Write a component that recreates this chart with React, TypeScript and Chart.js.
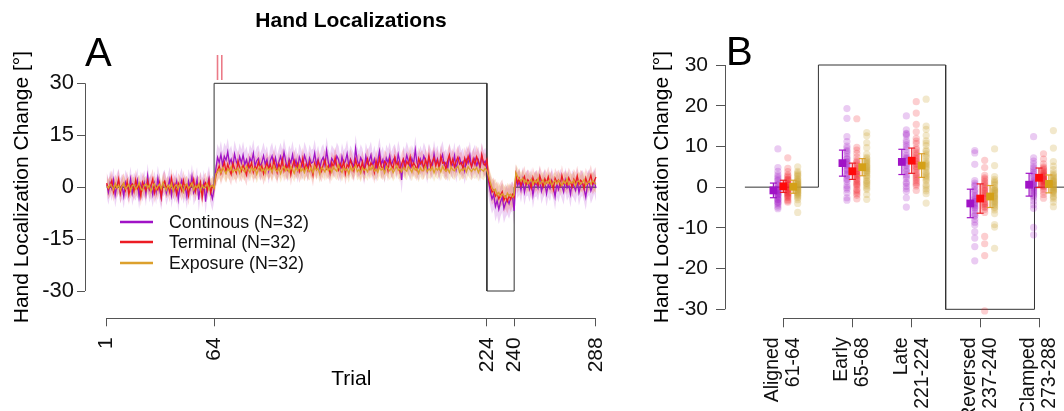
import React, { useEffect, useRef } from 'react';
import { Chart, registerables } from 'chart.js';
Chart.register(...registerables);

const FONT = "'Liberation Sans', Arial, Helvetica, sans-serif";

// ================= Panel A data =================
const phaseStarts = [1, 65, 225, 241];
const trialTicks = [1, 64, 224, 240, 288];
const yTicksA = [-30, -15, 0, 15, 30];
const scheduleTrials = [1, 64, 64, 224, 224, 240, 240, 288];
const scheduleValues = [0, 0, 30, 30, -30, -30, 0, 0];
const markerTrials = [66, 68.5];
const seriesLabels = ['Continous (N=32)', 'Terminal (N=32)', 'Exposure (N=32)'];

const contAligned = [
  0.8, -1.5, 1.2, -0.4, 2.1, -2.3, 0.5, 1.8,
  -1.1, 0.3, -2.6, 1.4, 0.2, -0.9, 2.4, -1.8,
  0.6, -0.3, 1.9, -2.8, 0.9, -0.6, 1.3, -1.9,
  3.2, -0.8, 0.4, -2.2, 1.1, -1.4, 2.6, -0.5,
  -3.1, 0.7, 1.5, -1.7, 0.2, 2.3, -2.4, 0.8,
  -0.9, 1.6, -3.4, 0.4, 2.0, -1.2, 0.3, -2.7,
  1.7, -0.4, 3.0, -1.6, -0.2, 2.2, -3.6, 0.9,
  -1.0, 1.4, -4.2, 0.5, 2.5, -1.3, -3.3, -0.6,
];
const contRotated = [
  5.2, 8.6, 7.1, 9.4, 6.3, 8.9, 7.8, 10.2,
  6.9, 8.1, 5.8, 9.6, 7.4, 6.2, 8.8, 7.0,
  9.3, 6.5, 7.9, 5.4, 8.4, 7.2, 9.8, 6.1,
  7.6, 8.3, 5.9, 7.1, 9.1, 6.6, 8.0, 4.8,
  7.7, 9.0, 6.4, 8.5, 5.6, 7.3, 8.9, 6.8,
  10.1, 7.5, 5.3, 8.2, 7.0, 9.4, 6.2, 7.8,
  5.1, 8.7, 7.2, 6.0, 9.2, 7.6, 5.7, 8.4,
  6.9, 7.3, 9.9, 6.4, 8.1, 5.5, 7.7, 8.6,
  6.3, 10.6, 7.1, 5.8, 8.3, 7.4, 6.6, 9.0,
  7.9, 5.2, 8.8, 6.7, 7.5, 9.7, 6.1, 8.2,
  7.0, 5.9, 11.2, 7.6, 6.4, 8.5, 7.3, 4.6,
  8.9, 6.8, 7.7, 9.3, 6.0, 8.1, 5.4, 7.5,
  10.4, 6.6, 7.9, 5.0, 8.4, 7.1, 9.1, 6.3,
  7.8, 8.6, 6.2, 9.5, 7.2, 2.1, 8.0, 6.9,
  9.2, 7.4, 5.6, 8.3, 6.7, 10.8, 7.0, 5.8,
  8.1, 6.5, 9.0, 7.6, 4.9, 8.7, 7.3, 6.1,
  9.6, 6.8, 8.2, 5.7, 7.9, 9.4, 6.4, 7.1,
  5.5, 8.8, 7.0, 6.3, 9.1, 5.2, 7.7, 8.5,
  6.6, 7.4, 4.7, 8.0, 6.9, 9.3, 5.9, 7.2,
  8.4, 6.1, 7.8, 5.4, 9.0, 6.7, 7.5, 5.8,
];
const contReversed = [1.5, -1.2, -3.4, -2.1, -5.6, -3.8, -6.4, -4.2, -2.9, -6.1, -4.5, -3.6, -4.8, -3.1, -2.6, -6.9];
const contClamped = [
  2.8, 0.4, 1.6, -0.8, 2.1, -1.5, 0.9, 1.3,
  -0.6, 1.8, -2.4, 0.7, 1.1, -0.3, 2.3, -1.2,
  0.5, 1.4, -1.9, 0.8, -0.4, 1.9, 0.2, -2.8,
  1.0, -0.7, 1.6, 0.3, -1.4, 2.0, -0.2, 0.9,
  -2.1, 1.2, 0.4, -0.9, 1.7, -1.6, 0.6, 1.3,
  -0.5, -2.9, 0.8, 1.5, -1.1, 0.3, 1.8, -0.3,
];

const termAligned = [
  1.2, -0.6, 0.4, 1.9, -1.4, 0.8, -0.2, 2.3,
  -1.8, 0.5, 1.1, -0.9, 1.6, -2.2, 0.3, 0.9,
  -1.2, 2.1, -0.4, 0.7, -2.6, 1.4, 0.1, -1.0,
  1.8, -0.5, 0.6, 2.4, -1.7, 0.2, -0.8, 1.3,
  -2.9, 0.9, 1.7, -0.3, 0.4, -1.5, 2.6, -0.7,
  0.8, -2.0, 1.2, 0.3, -1.1, 1.9, -0.6, 0.5,
  -2.4, 1.0, 0.2, 2.2, -1.3, 0.7, -0.1, 1.5,
  -3.0, 0.6, 1.3, -0.9, 2.0, -1.6, 0.4, -0.2,
];
const termRotated = [
  3.2, 4.8, 6.1, 3.9, 5.5, 7.2, 4.4, 6.6,
  5.0, 3.7, 6.9, 5.4, 4.1, 7.5, 5.8, 4.6,
  6.3, 5.1, 3.5, 6.8, 5.6, 7.1, 4.3, 6.0,
  5.3, 7.4, 4.9, 6.2, 3.8, 5.7, 7.0, 5.2,
  6.5, 4.5, 7.8, 5.9, 4.2, 6.7, 5.5, 8.1,
  4.7, 6.4, 5.1, 7.3, 3.6, 6.1, 7.7, 5.4,
  6.8, 4.4, 5.8, 8.3, 5.0, 6.6, 4.8, 7.2,
  5.6, 3.4, 6.9, 5.2, 7.6, 6.0, 4.6, 6.4,
  7.9, 5.3, 6.2, 4.0, 7.1, 5.7, 8.5, 6.1,
  4.9, 6.8, 5.5, 7.4, 3.9, 6.5, 5.8, 7.8,
  6.3, 4.7, 8.0, 5.9, 6.7, 5.1, 7.3, 4.5,
  6.6, 8.2, 5.4, 7.0, 6.2, 4.2, 7.7, 5.6,
  8.4, 6.0, 5.2, 7.5, 6.9, 4.8, 7.9, 6.3,
  5.5, 8.6, 6.1, 7.2, 4.6, 6.8, 8.1, 5.7,
  7.4, 6.5, 8.8, 5.9, 7.0, 6.2, 4.9, 8.3,
  6.7, 7.6, 5.3, 8.0, 6.4, 9.1, 5.8, 7.3,
  8.5, 6.1, 7.8, 5.6, 8.9, 6.9, 7.2, 5.1,
  7.7, 9.3, 6.3, 8.1, 5.8, 7.5, 8.7, 6.6,
  7.1, 5.4, 8.4, 6.8, 9.0, 7.3, 5.9, 8.2,
  6.5, 8.8, 7.4, 6.0, 9.4, 7.0, 6.2, 7.9,
];
const termReversed = [2.4, 0.3, -1.5, -0.8, -2.6, -1.9, -3.4, -2.2, -1.3, -3.8, -2.7, -4.1, -2.4, -3.5, -2.1, -3.0];
const termClamped = [
  3.6, 1.2, 2.5, 0.4, 1.9, 3.1, 0.8, 2.2,
  1.5, -0.3, 2.8, 1.0, 2.0, 0.6, 3.3, 1.7,
  0.2, 2.4, 1.3, 3.0, 0.9, 1.8, -0.6, 2.6,
  1.4, 2.1, 0.5, 3.4, 1.1, 1.9, 0.7, 2.7,
  1.6, 0.1, 2.3, 1.2, 3.2, 0.8, 2.0, 1.5,
  -0.4, 2.6, 1.0, 1.8, 3.5, 0.9, 1.7, 2.9,
];

const expAligned = [
  0.4, -0.3, 0.9, 0.2, -0.8, 1.1, -0.2, 0.6,
  -0.9, 0.3, 1.2, -0.5, 0.1, 0.8, -1.1, 0.4,
  0.7, -0.6, 0.2, 1.3, -0.4, -1.0, 0.5, 0.9,
  -0.2, 0.6, -1.3, 0.3, 1.0, -0.7, 0.2, 0.8,
  -0.5, 1.4, 0.1, -0.9, 0.6, -0.3, 1.1, -1.2,
  0.3, 0.7, -0.6, 1.0, -0.1, -1.4, 0.5, 0.9,
  -0.4, 0.2, 1.2, -0.8, 0.4, -0.2, 0.9, -1.1,
  0.6, -0.3, 0.1, 1.0, -0.7, 0.3, 0.5, -0.4,
];
const expRotated = [
  3.8, 4.5, 5.2, 4.1, 5.6, 4.8, 3.9, 5.3,
  4.6, 5.9, 4.3, 5.0, 4.7, 5.5, 4.0, 5.8,
  4.9, 4.4, 6.1, 5.1, 4.2, 5.7, 4.8, 5.4,
  3.7, 5.2, 6.0, 4.6, 5.3, 4.1, 5.8, 4.9,
  5.5, 4.3, 6.2, 5.0, 4.5, 5.6, 3.9, 5.2,
  6.0, 4.7, 5.4, 4.4, 5.9, 5.1, 4.0, 5.7,
  4.8, 6.3, 4.6, 5.3, 4.2, 5.8, 5.0, 4.5,
  5.6, 4.1, 6.1, 4.9, 5.4, 3.8, 5.7, 5.2,
  4.4, 6.0, 4.8, 5.5, 4.3, 5.9, 5.1, 4.6,
  6.4, 5.0, 4.2, 5.6, 4.9, 5.3, 3.9, 5.8,
  4.7, 5.4, 6.2, 4.5, 5.1, 4.0, 5.7, 4.8,
  5.3, 4.4, 5.9, 5.0, 6.1, 4.6, 5.2, 4.3,
  5.8, 4.9, 5.5, 4.1, 6.0, 5.4, 4.7, 5.6,
  4.2, 5.1, 6.3, 4.8, 5.3, 4.4, 5.7, 5.0,
  4.6, 6.1, 5.2, 4.3, 5.9, 4.9, 5.4, 4.0,
  5.6, 4.7, 5.0, 6.2, 4.5, 5.3, 4.8, 5.8,
  4.1, 5.5, 4.9, 5.7, 4.4, 6.0, 5.1, 4.6,
  5.3, 4.2, 5.8, 5.0, 4.7, 5.5, 6.1, 4.3,
  5.2, 4.8, 5.6, 4.4, 5.9, 5.1, 4.5, 5.4,
  4.9, 5.7, 4.2, 5.3, 5.0, 4.6, 5.5, 4.8,
];
const expReversed = [3.2, 1.4, -0.2, -1.1, -0.6, -2.3, -1.5, -2.8, -1.9, -2.4, -3.1, -1.7, -2.6, -2.0, -2.9, -2.3];
const expClamped = [
  4.2, 3.1, 2.4, 1.8, 2.6, 1.2, 2.0, 0.9,
  1.6, 2.3, 0.7, 1.9, 1.3, 2.5, 0.8, 1.5,
  2.1, 0.6, 1.7, 1.1, 2.2, 0.4, 1.4, 1.9,
  0.9, 2.0, 1.3, 0.5, 1.8, 1.0, 2.4, 0.7,
  1.5, 1.2, 2.1, 0.3, 1.6, 1.9, 0.8, 1.4,
  2.2, 0.6, 1.1, 1.7, 0.9, 2.0, 1.3, 0.8,
];

// 95% CI half-widths per phase (aligned, rotated, reversed, clamped)
const contCI = [3.6, 3.9, 4.3, 3.7];
const termCI = [2.9, 3.2, 3.6, 3.0];
const expCI = [2.3, 2.6, 3.0, 2.5];

// ================= Panel B data =================
const blockNames = [
  ['Aligned', '61-64'],
  ['Early', '65-68'],
  ['Late', '221-224'],
  ['Reversed', '237-240'],
  ['Clamped', '273-288'],
];
const blockX = [1, 3.3, 5.28, 7.56, 9.52];
const yTicksB = [-30, -20, -10, 0, 10, 20, 30];
const scheduleBX = [-0.28, 2.17, 2.17, 6.41, 6.41, 9.37, 9.37, 10.4];
const scheduleBY = [0, 0, 30, 30, -30, -30, 0, 0];

const alignedCont = [9.4, 4.8, 3.9, 3.1, 2.2, 1.5, 0.9, 0.3, -0.2, -0.6, -1.0, -1.4, -1.8, -2.2, -2.5, -2.9, -3.2, -3.6, -4.0, -4.4, -4.9, -0.4, 0.6, 1.8, -1.2, -2.0, -3.0, 2.6, -0.8, -1.6, -3.8, -5.3];
const alignedTerm = [7.2, 4.6, 3.8, 3.0, 2.4, 1.7, 1.1, 0.5, 0.0, -0.4, -0.9, -1.3, -1.7, -2.1, -2.6, -3.1, -3.7, 0.8, 1.4, -0.2, 2.0, -1.0, 0.3, -1.5, 2.8, -2.4, 0.6, -0.7, 1.9, -3.4, -1.9, -0.1];
const alignedExp = [5.0, 3.9, 3.2, 2.6, 2.1, 1.6, 1.2, 0.8, 0.4, 0.1, -0.3, -0.7, -1.1, -1.5, -2.0, -2.6, -3.1, -6.2, 1.9, 0.6, -0.5, 2.9, -1.3, 0.2, -0.8, 1.4, -2.3, 0.9, -0.1, 3.5, -1.7, -4.0];
const earlyCont = [19.3, 16.9, 12.4, 11.2, 10.1, 9.0, 8.2, 7.5, 6.9, 6.3, 5.8, 5.2, 4.6, 4.0, 3.4, 2.8, 2.1, 1.3, 0.4, -0.5, -1.4, -2.6, 7.0, 5.5, 3.0, 8.7, 1.8, 6.1, 4.3, -0.1, 9.6, -3.2];
const earlyTerm = [16.8, 9.8, 9.1, 8.3, 7.4, 6.6, 5.9, 5.2, 4.6, 4.0, 3.5, 3.0, 2.5, 2.0, 1.4, 0.8, 0.2, -0.5, -1.2, -2.0, -2.9, 6.2, 3.2, 1.0, 4.4, -0.8, 2.7, 5.5, 0.5, 3.8, -1.6, 1.8];
const earlyExp = [13.4, 12.6, 10.9, 9.7, 8.1, 7.3, 6.6, 6.0, 5.4, 4.9, 4.4, 3.9, 3.4, 2.9, 2.3, 1.7, 1.0, 0.3, -0.6, -1.8, -3.0, 5.7, 4.1, 2.6, 7.0, 0.8, 3.6, 5.1, 1.4, 6.3, -0.2, 4.6];
const lateCont = [17.5, 14.1, 13.2, 12.6, 11.5, 10.4, 9.3, 8.5, 7.8, 7.1, 6.5, 5.9, 5.2, 4.5, 3.8, 3.0, 2.1, 1.2, 0.2, -1.0, -2.6, -4.9, 13.0, 6.8, 4.0, 9.9, 2.6, 0.9, 7.4, 11.0, -0.4, 5.5];
const lateTerm = [21.0, 18.2, 15.4, 13.6, 12.0, 10.7, 9.6, 8.6, 7.8, 7.0, 6.3, 5.6, 4.9, 4.2, 3.5, 2.8, 2.0, 1.1, 0.3, -0.8, 8.2, 5.1, 3.1, 11.3, 6.6, 1.6, 9.2, 4.5, 0.7, 7.4, 2.4, 5.9];
const lateExp = [21.6, 15.0, 14.2, 12.7, 11.4, 10.2, 9.1, 8.2, 7.3, 6.5, 5.8, 5.1, 4.4, 3.7, 3.0, 2.3, 1.5, 0.6, -0.4, -1.6, -3.9, 8.8, 4.8, 1.9, 6.1, 0.2, 3.4, 10.8, -0.9, 2.7, 5.5, 7.7];
const revCont = [9.0, 8.4, 5.6, 1.6, 1.0, 0.2, -0.6, -1.4, -2.1, -2.8, -3.4, -4.0, -4.6, -5.2, -5.8, -6.4, -7.1, -7.9, -8.6, -11.0, -12.5, -14.6, -18.1, -3.0, -1.0, -5.0, -6.9, 0.5, -2.4, -4.3, -9.3, -3.7];
const revTerm = [6.6, 4.8, 2.9, 2.3, 1.5, 0.7, 0.0, -0.7, -1.3, -1.9, -2.5, -3.0, -3.6, -4.2, -4.8, -5.5, -6.2, -12.1, -13.9, -16.8, -30.4, -0.3, -2.2, 1.1, -3.9, 0.4, -1.6, -5.0, 2.0, -2.8, -4.4, -0.9];
const revExp = [9.4, 5.3, 2.6, 1.9, 1.2, 0.5, -0.1, -0.7, -1.3, -1.9, -2.4, -2.9, -3.5, -4.1, -4.8, -5.6, -6.5, -9.2, -9.8, -15.0, 0.9, -1.0, -2.2, -3.2, -0.4, 1.5, -2.6, -4.4, -1.6, -5.1, -0.8, -3.8];
const clampCont = [12.4, 7.2, 6.4, 5.7, 5.0, 4.1, 3.2, 2.5, 1.8, 1.2, 0.6, 0.0, -0.6, -1.2, -1.9, -2.6, -3.4, -4.3, -5.2, -9.9, -11.7, 2.8, 0.9, -0.3, 1.5, 3.7, -1.5, 0.3, 4.6, -2.2, 1.0, -0.9];
const clampTerm = [8.2, 6.9, 5.7, 5.0, 4.4, 3.8, 3.3, 2.8, 2.4, 2.0, 1.6, 1.2, 0.8, 0.4, 0.0, -0.5, -1.1, -1.8, -2.7, 4.7, 3.1, 1.9, 2.6, 0.6, 3.5, 1.4, 2.2, 0.2, 4.1, 1.0, 2.9, 1.7];
const clampExp = [13.9, 9.6, 6.3, 5.2, 4.3, 3.5, 2.8, 2.2, 1.6, 1.0, 0.5, 0.0, -0.5, -1.0, -1.6, -2.2, -2.9, -3.7, -4.8, 1.3, 0.2, -0.7, 2.5, 0.8, -1.3, 3.1, -0.2, 1.9, -2.5, 0.6, -0.9, 1.4];

const meansCont = [-0.8, 5.9, 6.2, -4.0, 0.6];
const meansTerm = [0.2, 3.9, 6.5, -2.8, 2.3];
const meansExp = [0.1, 4.9, 5.3, -2.3, 0.8];
const ciBCont = [1.8, 3.2, 3.1, 3.5, 2.8];
const ciBTerm = [1.5, 2.0, 3.1, 3.6, 2.4];
const ciBExp = [1.6, 2.1, 2.9, 2.7, 2.2];

// ================= styles =================
const PURPLE = '#a012c6';
const RED = '#ec1c24';
const GOLD = '#dca02c';
const PURPLE_BAND = 'rgba(170, 40, 205, 0.2)';
const RED_BAND = 'rgba(236, 40, 50, 0.2)';
const GOLD_BAND = 'rgba(225, 165, 50, 0.22)';
const PURPLE_DOT = 'rgba(160, 18, 198, 0.22)';
const RED_DOT = 'rgba(240, 30, 40, 0.22)';
const GOLD_DOT = 'rgba(200, 160, 40, 0.24)';
const AXIS = '#555';

// ================= helpers =================
const series = (phases: number[][]) =>
  phases.flatMap((arr, k) => arr.map((v, i) => ({ x: phaseStarts[k] + i, y: v })));
const band = (phases: number[][], ci: number[], sign: number) =>
  phases.flatMap((arr, k) => arr.map((v, i) => ({ x: phaseStarts[k] + i, y: v + sign * ci[k] })));
const zipXY = (xs: number[], ys: number[]) => xs.map((x, i) => ({ x, y: ys[i] }));

// pin a linear scale so that value v1 sits at pixel p1 and v2 at p2
function pinScale(s: any, v1: number, p1: number, v2: number, p2: number) {
  const k = (p2 - p1) / (v2 - v1);
  const horizontal = s.isHorizontal();
  const startPx = horizontal ? s.left : s.bottom;
  const endPx = horizontal ? s.right : s.top;
  s.min = v1 + (startPx - p1) / k;
  s.max = v1 + (endPx - p1) / k;
  s.configure();
}
const noPad = (s: any) => {
  s.paddingLeft = 0; s.paddingRight = 0; s.paddingTop = 0; s.paddingBottom = 0;
};

function PanelA() {
  const ref = useRef<HTMLCanvasElement>(null);
  useEffect(() => {
    const cont = [contAligned, contRotated, contReversed, contClamped];
    const term = [termAligned, termRotated, termReversed, termClamped];
    const exp = [expAligned, expRotated, expReversed, expClamped];
    const lineDs = (label: string, data: any[], color: string) => ({
      label, data, borderColor: color, borderWidth: 1.3, pointRadius: 0, tension: 0, fill: false, clip: false,
    });
    const bandDs = (data: any[], color: string, fill: any) => ({
      label: '', data, borderWidth: 0, borderColor: 'rgba(0,0,0,0)', backgroundColor: color,
      pointRadius: 0, tension: 0, fill, clip: false,
    });
    const plugin = {
      id: 'panelA',
      afterLayout(chart: any) {
        pinScale(chart.scales.x, 1, 106.7, 288, 596);
        pinScale(chart.scales.y, 30, 83.3, -30, 291);
      },
      beforeDatasetsDraw(chart: any) {
        const { ctx, scales: { x, y }, chartArea } = chart;
        ctx.save();
        ctx.strokeStyle = AXIS;
        ctx.lineWidth = 1;
        ctx.beginPath();
        const lx = Math.round(chartArea.left) + 0.5;
        ctx.moveTo(lx, y.getPixelForValue(yTicksA[0]));
        ctx.lineTo(lx, y.getPixelForValue(yTicksA[yTicksA.length - 1]));
        const by = Math.round(chartArea.bottom) + 0.5;
        ctx.moveTo(x.getPixelForValue(trialTicks[0]), by);
        ctx.lineTo(x.getPixelForValue(trialTicks[trialTicks.length - 1]), by);
        ctx.stroke();
        ctx.restore();
      },
      afterDraw(chart: any) {
        const { ctx, scales: { x, y } } = chart;
        ctx.save();
        ctx.fillStyle = '#000';
        ctx.font = `bold 21px ${FONT}`;
        ctx.textAlign = 'center';
        ctx.textBaseline = 'middle';
        ctx.fillText('Hand Localizations', 351, 21);
        ctx.font = `40px ${FONT}`;
        ctx.textAlign = 'left';
        ctx.textBaseline = 'alphabetic';
        ctx.fillText('A', 85, 66);
        // axis titles
        ctx.font = `21px ${FONT}`;
        ctx.textAlign = 'center';
        ctx.textBaseline = 'middle';
        ctx.fillText('Trial', (x.getPixelForValue(1) + x.getPixelForValue(288)) / 2, 379);
        ctx.save();
        ctx.translate(22, (y.getPixelForValue(30) + y.getPixelForValue(-30)) / 2);
        ctx.rotate(-Math.PI / 2);
        ctx.fillText('Hand Localization Change [°]', 0, 0);
        ctx.restore();
        // legend
        const cols = [PURPLE, RED, GOLD];
        const rows = [222, 242, 263];
        ctx.font = `17.8px ${FONT}`;
        ctx.textAlign = 'left';
        cols.forEach((c, i) => {
          ctx.strokeStyle = c;
          ctx.lineWidth = 2.5;
          ctx.beginPath();
          ctx.moveTo(120, rows[i]);
          ctx.lineTo(153, rows[i]);
          ctx.stroke();
          ctx.fillStyle = '#111';
          ctx.fillText(seriesLabels[i], 169, rows[i] + 1);
        });
        // markers above trials 65-68
        ctx.strokeStyle = 'rgba(225, 50, 70, 0.65)';
        ctx.lineWidth = 1.6;
        markerTrials.forEach((t) => {
          const px = x.getPixelForValue(t);
          ctx.beginPath();
          ctx.moveTo(px, 55);
          ctx.lineTo(px, 80);
          ctx.stroke();
        });
        ctx.restore();
      },
    };
    const chart = new Chart(ref.current as HTMLCanvasElement, {
      type: 'line',
      data: {
        datasets: [
          lineDs('Exposure', series(exp), GOLD),
          lineDs('Terminal', series(term), RED),
          lineDs('Continous', series(cont), PURPLE),
          { label: 'schedule', data: zipXY(scheduleTrials, scheduleValues), borderColor: '#333', borderWidth: 1, pointRadius: 0, tension: 0, fill: false, clip: false } as any,
          bandDs(band(exp, expCI, 1), GOLD_BAND, '+1'),
          bandDs(band(exp, expCI, -1), GOLD_BAND, false),
          bandDs(band(term, termCI, 1), RED_BAND, '+1'),
          bandDs(band(term, termCI, -1), RED_BAND, false),
          bandDs(band(cont, contCI, 1), PURPLE_BAND, '+1'),
          bandDs(band(cont, contCI, -1), PURPLE_BAND, false),
        ],
      },
      options: {
        animation: false,
        responsive: false,
        devicePixelRatio: 1,
        layout: { padding: { left: 0, top: 83.3, right: 10, bottom: 0 } },
        plugins: { legend: { display: false }, tooltip: { enabled: false }, title: { display: false } },
        scales: {
          x: {
            type: 'linear',
            min: -11.73,
            max: 296.2,
            afterBuildTicks: (s: any) => { s.ticks = trialTicks.map((v) => ({ value: v })); },
            afterFit: (s: any) => { s.height = 92.7; noPad(s); },
            grid: { display: true, drawOnChartArea: false, drawTicks: true, tickLength: 8, color: AXIS, lineWidth: 1 },
            border: { display: false },
            ticks: {
              autoSkip: false, minRotation: 90, maxRotation: 90, padding: 11,
              color: '#111', font: { family: FONT, size: 21 },
              callback: (v: any) => String(v),
            },
          },
          y: {
            type: 'linear',
            min: -37.9,
            max: 30,
            afterBuildTicks: (s: any) => { s.ticks = yTicksA.map((v) => ({ value: v })); },
            afterFit: (s: any) => { s.width = 85; noPad(s); },
            grid: { display: true, drawOnChartArea: false, drawTicks: true, tickLength: 8, color: AXIS, lineWidth: 1 },
            border: { display: false },
            ticks: { padding: 3, color: '#111', font: { family: FONT, size: 22 }, callback: (v: any) => String(v) },
          },
        },
      },
      plugins: [plugin],
    } as any);
    return () => chart.destroy();
  }, []);
  return (
    <canvas ref={ref} width={620} height={411}
      style={{ position: 'absolute', left: 0, top: 0, width: 620, height: 411 }} />
  );
}

function PanelB() {
  const ref = useRef<HTMLCanvasElement>(null);
  useEffect(() => {
    const offsets = [-0.33, 0, 0.33];
    const dotShift = 0.15;
    const colors = [PURPLE, RED, GOLD];
    const squareColors = [PURPLE, '#ff0a0a', '#d4a017'];
    const dotColors = [PURPLE_DOT, RED_DOT, GOLD_DOT];
    const dots = [
      [alignedCont, earlyCont, lateCont, revCont, clampCont],
      [alignedTerm, earlyTerm, lateTerm, revTerm, clampTerm],
      [alignedExp, earlyExp, lateExp, revExp, clampExp],
    ];
    const means = [meansCont, meansTerm, meansExp];
    const cis = [ciBCont, ciBTerm, ciBExp];
    const labels = ['Continous', 'Terminal', 'Exposure'];

    const squareDs = means.map((m, s) => ({
      label: labels[s] + ' mean',
      data: m.map((v, k) => ({ x: blockX[k] + offsets[s], y: v })),
      pointStyle: 'rect', pointRadius: 5.5, backgroundColor: squareColors[s], borderWidth: 0, showLine: false, clip: false,
    }));
    const errDs: any[] = [];
    means.forEach((m, s) => {
      m.forEach((v, k) => {
        const xv = blockX[k] + offsets[s];
        errDs.push({
          label: '',
          data: [{ x: xv, y: v - cis[s][k] }, { x: xv, y: v + cis[s][k] }],
          showLine: true, borderColor: colors[s], borderWidth: 1.2,
          pointStyle: 'line', pointRadius: 3.5, pointBorderColor: colors[s], pointBorderWidth: 1.2,
          backgroundColor: colors[s], clip: false,
        });
      });
    });
    const dotDs = dots.map((blocks, s) => ({
      label: labels[s],
      data: blocks.flatMap((arr, k) => arr.map((v) => ({ x: blockX[k] + offsets[s] + dotShift, y: v }))),
      pointStyle: 'circle', pointRadius: 3.6, backgroundColor: dotColors[s], borderWidth: 0, showLine: false, clip: false,
    }));
    const scheduleDs = {
      label: 'schedule', data: zipXY(scheduleBX, scheduleBY), showLine: true, borderColor: '#333',
      borderWidth: 1, pointRadius: 0, tension: 0, clip: false,
    };

    const plugin = {
      id: 'panelB',
      afterLayout(chart: any) {
        pinScale(chart.scales.x, blockX[0], 163.3, blockX[4], 419);
        pinScale(chart.scales.y, 30, 65, -30, 309.3);
      },
      beforeDatasetsDraw(chart: any) {
        const { ctx, scales: { x, y }, chartArea } = chart;
        ctx.save();
        ctx.strokeStyle = AXIS;
        ctx.lineWidth = 1;
        ctx.beginPath();
        const lx = Math.round(chartArea.left) + 0.5;
        ctx.moveTo(lx, y.getPixelForValue(yTicksB[0]));
        ctx.lineTo(lx, y.getPixelForValue(yTicksB[yTicksB.length - 1]));
        const by = Math.round(chartArea.bottom) + 0.5;
        ctx.moveTo(x.getPixelForValue(blockX[0]), by);
        ctx.lineTo(x.getPixelForValue(blockX[blockX.length - 1]), by);
        ctx.stroke();
        ctx.restore();
      },
      afterDraw(chart: any) {
        const { ctx, scales: { y } } = chart;
        ctx.save();
        ctx.fillStyle = '#000';
        ctx.font = `40px ${FONT}`;
        ctx.textAlign = 'left';
        ctx.textBaseline = 'alphabetic';
        ctx.fillText('B', 106, 65);
        ctx.font = `21px ${FONT}`;
        ctx.textAlign = 'center';
        ctx.textBaseline = 'middle';
        ctx.translate(42, (y.getPixelForValue(30) + y.getPixelForValue(-30)) / 2);
        ctx.rotate(-Math.PI / 2);
        ctx.fillText('Hand Localization Change [°]', 0, 0);
        ctx.restore();
      },
    };

    const chart = new Chart(ref.current as HTMLCanvasElement, {
      type: 'scatter',
      data: { datasets: [...squareDs, ...errDs, ...dotDs, scheduleDs] as any },
      options: {
        animation: false,
        responsive: false,
        devicePixelRatio: 1,
        layout: { padding: { left: 0, top: 65, right: 1, bottom: 0 } },
        plugins: { legend: { display: false }, tooltip: { enabled: false }, title: { display: false } },
        scales: {
          x: {
            type: 'linear',
            min: -0.943,
            max: 10.257,
            afterBuildTicks: (s: any) => { s.ticks = blockX.map((v) => ({ value: v })); },
            afterFit: (s: any) => { s.height = 92.7; noPad(s); },
            grid: { display: true, drawOnChartArea: false, drawTicks: true, tickLength: 9, color: AXIS, lineWidth: 1 },
            border: { display: false },
            ticks: {
              autoSkip: false, minRotation: 90, maxRotation: 90, padding: 10, labelOffset: -10.5,
              color: '#111', font: { family: FONT, size: 19.5, lineHeight: 1.08 },
              callback: (_v: any, i: number) => blockNames[i],
            },
          },
          y: {
            type: 'linear',
            min: -32.21,
            max: 30,
            afterBuildTicks: (s: any) => { s.ticks = yTicksB.map((v) => ({ value: v })); },
            afterFit: (s: any) => { s.width = 105; noPad(s); },
            grid: { display: true, drawOnChartArea: false, drawTicks: true, tickLength: 9, color: AXIS, lineWidth: 1 },
            border: { display: false },
            ticks: { padding: 8, color: '#111', font: { family: FONT, size: 21 }, callback: (v: any) => String(v) },
          },
        },
      },
      plugins: [plugin],
    } as any);
    return () => chart.destroy();
  }, []);
  return (
    <canvas ref={ref} width={444} height={411}
      style={{ position: 'absolute', left: 620, top: 0, width: 444, height: 411 }} />
  );
}

export default function App() {
  return (
    <div style={{ position: 'fixed', left: 0, top: 0, width: 1064, height: 411, background: '#fff', overflow: 'hidden' }}>
      <PanelA />
      <PanelB />
    </div>
  );
}
